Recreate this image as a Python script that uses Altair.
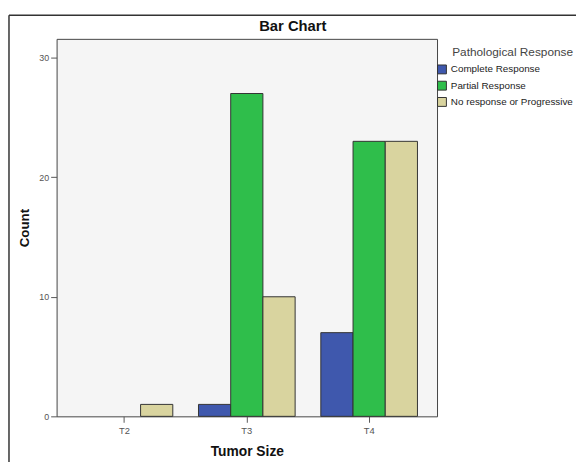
import altair as alt
import pandas as pd

sizes = ["T2", "T3", "T4"]
responses = ["Complete Response", "Partial Response", "No response or Progressive"]
complete_counts = [0, 1, 7]
partial_counts = [0, 27, 23]
noresp_counts = [1, 10, 23]
colors = ["#3f58ad", "#2fbe4b", "#d9d49f"]

rows = []
for i, s in enumerate(sizes):
    rows.append({"size": s, "resp": responses[0], "count": complete_counts[i]})
    rows.append({"size": s, "resp": responses[1], "count": partial_counts[i]})
    rows.append({"size": s, "resp": responses[2], "count": noresp_counts[i]})
df = pd.DataFrame(rows)

FONT = "Liberation Sans"

bars = alt.Chart(df).mark_bar(strokeWidth=1).encode(
    x=alt.X("size:N", sort=sizes,
            scale=alt.Scale(paddingInner=0.21, paddingOuter=0.16),
            axis=alt.Axis(title="Tumor Size", labelAngle=0, domain=False,
                          tickSize=6, tickColor="#555555", labelColor="#555555",
                          labelFontSize=9.5, labelPadding=3, labelFont=FONT,
                          titleFont=FONT, titleFontSize=14, titleFontWeight="bold",
                          titleColor="#111111", titleY=40, titleBaseline="alphabetic")),
    xOffset=alt.XOffset("resp:N", sort=responses,
                        scale=alt.Scale(domain=responses, paddingInner=0, paddingOuter=0)),
    y=alt.Y("count:Q", scale=alt.Scale(domain=[0, 31.57], nice=False),
            axis=alt.Axis(title="Count", values=[0, 10, 20, 30], domain=False,
                          grid=False, tickSize=6, tickColor="#555555",
                          labelColor="#555555", labelFontSize=9, labelPadding=2,
                          labelFont=FONT, titleFont=FONT, titleFontSize=13.5,
                          titleFontWeight="bold", titleColor="#111111",
                          titleX=-25, titleY=191.5, titleAlign="center",
                          titleBaseline="bottom")),
    color=alt.Color("resp:N", sort=responses,
                    scale=alt.Scale(domain=responses, range=colors),
                    legend=alt.Legend(title="Pathological Response", orient="none",
                                      legendX=386, legendY=8, titleAnchor="end",
                                      titleFont=FONT, titleFontSize=12,
                                      titleFontWeight="normal", titleColor="#444444",
                                      labelFont=FONT, labelFontSize=10,
                                      labelColor="#222222", symbolType="square",
                                      symbolSize=81, symbolStrokeColor="#333333",
                                      symbolStrokeWidth=1, symbolOpacity=1,
                                      rowPadding=2.5, titlePadding=6, labelOffset=4,
                                      padding=0)),
    stroke=alt.condition(alt.datum.count > 0, alt.value("#333333"), alt.value("transparent")),
)

frame_df = pd.DataFrame({"k": [0]})
top_line = alt.Chart(frame_df).mark_rule(color="#333333", strokeWidth=1.5).encode(
    x=alt.value(-48.3), x2=alt.value(530), y=alt.value(-24))
left_line = alt.Chart(frame_df).mark_rule(color="#333333", strokeWidth=1.5).encode(
    x=alt.value(-48.3), y=alt.value(-24), y2=alt.value(440))

chart = alt.layer(bars, top_line, left_line).properties(
    width=386, height=383,
    autosize=alt.AutoSizeParams(type="none"),
    padding={"left": 49.3, "top": 28, "right": 141, "bottom": 43},
    title=alt.TitleParams("Bar Chart", font=FONT, fontSize=15, fontWeight="bold",
                          color="#111111", anchor="middle", dx=46.7, dy=38, offset=6,
                          baseline="alphabetic"),
    background="white",
).configure_view(fill="#f5f5f5", stroke="#444444", strokeWidth=1)

chart.save("out.html", embed_options={"renderer": "svg", "actions": False})
